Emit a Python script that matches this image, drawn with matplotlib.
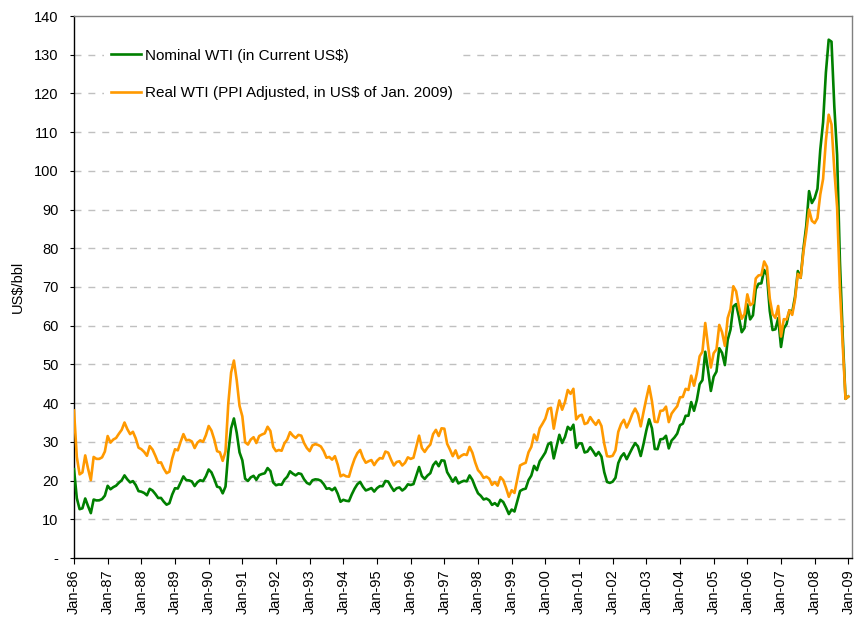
import matplotlib
matplotlib.use("Agg")
import matplotlib.pyplot as plt
import numpy as np

# Monthly WTI prices, Jan-1986 .. Jan-2009 (US$/bbl)
nominal_wti = [
    22.93, 15.46, 12.61, 12.84, 15.38, 13.43, 11.59, 15.10, 14.87, 14.90, 15.22, 16.11,  # 1986
    18.65, 17.75, 18.30, 18.68, 19.44, 20.07, 21.34, 20.31, 19.53, 19.86, 18.85, 17.28,  # 1987
    17.13, 16.80, 16.20, 17.86, 17.42, 16.53, 15.50, 15.52, 14.54, 13.77, 14.14, 16.38,  # 1988
    18.02, 17.94, 19.48, 21.07, 20.12, 20.05, 19.78, 18.58, 19.59, 20.10, 19.86, 21.10,  # 1989
    22.86, 22.11, 20.39, 18.43, 18.20, 16.70, 18.45, 27.31, 33.51, 36.04, 32.33, 27.28,  # 1990
    25.23, 20.48, 19.90, 20.83, 21.23, 20.19, 21.40, 21.69, 21.89, 23.23, 22.46, 19.50,  # 1991
    18.79, 19.01, 18.92, 20.23, 20.98, 22.39, 21.78, 21.34, 21.88, 21.69, 20.34, 19.41,  # 1992
    19.03, 20.09, 20.32, 20.25, 19.95, 19.09, 17.89, 18.01, 17.50, 18.15, 16.61, 14.52,  # 1993
    15.03, 14.78, 14.68, 16.42, 17.89, 19.06, 19.66, 18.38, 17.45, 17.72, 18.07, 17.16,  # 1994
    18.04, 18.57, 18.54, 19.90, 19.74, 18.45, 17.33, 18.02, 18.23, 17.43, 17.99, 19.03,  # 1995
    18.86, 19.09, 21.33, 23.50, 21.17, 20.42, 21.30, 21.90, 23.97, 24.88, 23.71, 25.23,  # 1996
    25.13, 22.18, 20.97, 19.70, 20.82, 19.26, 19.66, 19.95, 19.80, 21.33, 20.19, 18.33,  # 1997
    16.72, 16.06, 15.12, 15.35, 14.91, 13.72, 14.17, 13.47, 15.03, 14.46, 13.00, 11.35,  # 1998
    12.52, 12.01, 14.68, 17.31, 17.72, 17.92, 20.10, 21.28, 23.80, 22.69, 25.00, 26.10,  # 1999
    27.26, 29.37, 29.84, 25.72, 28.79, 31.82, 29.70, 31.26, 33.88, 33.11, 34.42, 28.44,  # 2000
    29.59, 29.61, 27.25, 27.49, 28.63, 27.60, 26.43, 27.37, 26.20, 22.17, 19.64, 19.39,  # 2001
    19.72, 20.72, 24.53, 26.18, 27.04, 25.52, 26.97, 28.39, 29.66, 28.84, 26.35, 29.46,  # 2002
    32.95, 35.83, 33.51, 28.17, 28.11, 30.66, 30.76, 31.57, 28.31, 30.34, 31.11, 32.13,  # 2003
    34.31, 34.69, 36.74, 36.75, 40.28, 38.03, 40.78, 44.90, 45.94, 53.28, 48.47, 43.15,  # 2004
    46.84, 48.15, 54.19, 52.98, 49.83, 56.35, 59.00, 64.99, 65.59, 62.26, 58.32, 59.41,  # 2005
    65.49, 61.63, 62.69, 69.44, 70.84, 70.95, 74.41, 73.04, 63.80, 58.89, 59.08, 61.96,  # 2006
    54.51, 59.28, 60.44, 63.98, 63.46, 67.49, 74.12, 72.36, 79.92, 85.80, 94.77, 91.69,  # 2007
    92.97, 95.39, 105.45, 112.58, 125.40, 133.88, 133.37, 116.67, 104.11, 76.61, 57.31, 41.12,  # 2008
    41.71,  # Jan 2009
]

real_wti = [
    38.1, 26.1, 21.6, 22.1, 26.5, 23.1, 20.1, 26.1, 25.6, 25.6, 26.0, 27.5,  # 1986
    31.5, 29.8, 30.6, 31.0, 32.1, 33.1, 35.0, 33.3, 32.0, 32.6, 30.9, 28.5,  # 1987
    28.1, 27.4, 26.4, 28.9, 28.0, 26.4, 24.6, 24.7, 23.1, 21.9, 22.3, 25.7,  # 1988
    28.1, 27.8, 30.0, 32.0, 30.4, 30.5, 30.1, 28.4, 29.8, 30.4, 30.0, 31.7,  # 1989
    34.1, 32.9, 30.6, 27.6, 27.3, 25.1, 27.5, 39.9, 47.9, 51.0, 45.9, 39.3,  # 1990
    36.6, 29.9, 29.3, 30.6, 31.2, 29.7, 31.5, 31.9, 32.2, 33.9, 32.8, 28.7,  # 1991
    27.6, 27.9, 27.7, 29.6, 30.6, 32.5, 31.6, 31.0, 31.8, 31.6, 29.7, 28.4,  # 1992
    27.6, 29.1, 29.4, 29.2, 28.8, 27.6, 25.9, 26.1, 25.4, 26.3, 24.1, 21.1,  # 1993
    21.5, 21.1, 21.0, 23.5, 25.6, 27.1, 27.9, 25.9, 24.6, 25.0, 25.3, 24.0,  # 1994
    25.1, 25.8, 25.7, 27.5, 27.2, 25.4, 23.9, 24.8, 25.0, 23.9, 24.6, 26.0,  # 1995
    25.6, 25.9, 28.8, 31.6, 28.4, 27.4, 28.5, 29.3, 32.0, 33.1, 31.5, 33.5,  # 1996
    33.4, 29.5, 28.0, 26.3, 27.8, 25.8, 26.4, 26.8, 26.6, 28.7, 27.2, 24.7,  # 1997
    22.7, 21.9, 20.7, 21.0, 20.5, 18.9, 19.6, 18.7, 20.9, 20.1, 18.1, 15.8,  # 1998
    17.5, 16.8, 20.4, 23.9, 24.3, 24.6, 27.3, 28.7, 31.9, 30.4, 33.5, 34.7,  # 1999
    36.0, 38.5, 38.8, 33.4, 37.4, 40.7, 38.3, 40.3, 43.4, 42.4, 43.7, 35.8,  # 2000
    36.7, 37.0, 34.6, 34.9, 36.4, 35.3, 34.4, 35.6, 34.1, 29.5, 26.3, 26.2,  # 2001
    26.4, 27.8, 32.6, 34.6, 35.7, 33.7, 35.3, 37.2, 38.6, 37.2, 34.0, 37.7,  # 2002
    41.2, 44.4, 40.5, 35.2, 35.1, 38.0, 38.1, 39.1, 35.1, 37.3, 38.3, 39.2,  # 2003
    41.5, 41.6, 43.7, 43.4, 47.1, 44.5, 47.7, 52.1, 53.3, 60.7, 54.8, 49.2,  # 2004
    52.9, 53.9, 60.2, 58.3, 54.8, 62.0, 64.3, 70.2, 68.9, 64.8, 61.8, 63.0,  # 2005
    68.1, 65.3, 65.8, 72.2, 73.0, 73.1, 76.6, 75.2, 67.0, 63.0, 62.0, 65.1,  # 2006
    57.2, 61.7, 61.6, 64.0, 62.8, 66.8, 73.4, 72.4, 79.1, 84.1, 90.0, 87.1,  # 2007
    86.5, 87.8, 93.9, 97.9, 107.8, 114.5, 112.0, 100.3, 90.6, 69.7, 55.0, 41.1,  # 2008
    41.7,  # Jan 2009
]

x_tick_labels = ["Jan-86", "Jan-87", "Jan-88", "Jan-89", "Jan-90", "Jan-91", "Jan-92",
                 "Jan-93", "Jan-94", "Jan-95", "Jan-96", "Jan-97", "Jan-98", "Jan-99",
                 "Jan-00", "Jan-01", "Jan-02", "Jan-03", "Jan-04", "Jan-05", "Jan-06",
                 "Jan-07", "Jan-08", "Jan-09"]
y_tick_values = [0, 10, 20, 30, 40, 50, 60, 70, 80, 90, 100, 110, 120, 130, 140]
y_tick_labels = ["-"] + [str(v) for v in y_tick_values[1:]]

series_labels = ["Nominal WTI (in Current US$)", "Real WTI (PPI Adjusted, in US$ of Jan. 2009)"]

plt.rcParams["font.family"] = ["Liberation Sans", "DejaVu Sans"]

fig = plt.figure(figsize=(8.55, 6.17), dpi=100)
ax = fig.add_axes([74 / 855, 1 - 558 / 617, (851.7 - 74) / 855, (558 - 16) / 617])

months = np.arange(len(nominal_wti))
ax.plot(months, nominal_wti, color="#008000", lw=1.9, label=series_labels[0], zorder=3)
ax.plot(months, real_wti, color="#FF9900", lw=1.9, label=series_labels[1], zorder=3)

ax.set_xlim(0, 277.2)
ax.set_ylim(0, 140)

ax.set_yticks(y_tick_values)
ax.set_yticklabels(y_tick_labels)
ax.set_xticks(np.arange(0, len(nominal_wti), 12))
ax.set_xticklabels(x_tick_labels, rotation=90)

ax.tick_params(axis="y", direction="out", length=3, width=0.8, pad=8, labelsize=10.5, colors="black")
ax.tick_params(axis="x", direction="out", length=4, width=0.8, pad=4, labelsize=10.5, colors="black")

for v in y_tick_values[1:-1]:
    ax.axhline(v, color="#C0C0C0", lw=1.0, dashes=(5, 5), zorder=1)

ax.spines["left"].set_color("black")
ax.spines["bottom"].set_color("black")
ax.spines["left"].set_linewidth(1.0)
ax.spines["bottom"].set_linewidth(1.0)
ax.spines["top"].set_color("#808080")
ax.spines["right"].set_color("#808080")
ax.spines["top"].set_linewidth(1.0)
ax.spines["right"].set_linewidth(1.0)

fig.text(18 / 855, 1 - 287 / 617, "US$/bbl", rotation=90, ha="center", va="center", fontsize=10.5)

leg = ax.legend(loc="upper left", bbox_to_anchor=((103.5 - 74) / 777.7, 1 - (41 - 16) / 542),
                frameon=True, fontsize=11, handlelength=1.96, handletextpad=0.26,
                labelspacing=1.54, borderpad=0.5, borderaxespad=0)
leg.get_frame().set_facecolor("white")
leg.get_frame().set_edgecolor("none")
leg.get_frame().set_alpha(1)
leg.set_zorder(5)

fig.savefig("out.png", dpi=100)
